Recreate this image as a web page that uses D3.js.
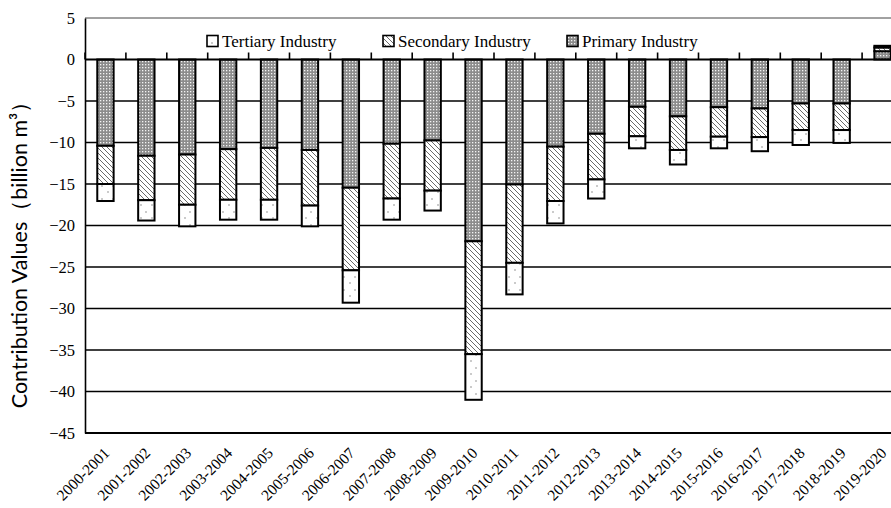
<!DOCTYPE html>
<html>
<head>
<meta charset="utf-8">
<script src="https://cdn.jsdelivr.net/npm/d3@7"></script>
<style>
html,body{margin:0;padding:0;background:#fff;}
svg{display:block;}
</style>
</head>
<body>
<svg id="chart" width="891" height="508"></svg>
<script>
const categories = ["2000-2001","2001-2002","2002-2003","2003-2004","2004-2005","2005-2006","2006-2007","2007-2008","2008-2009","2009-2010","2010-2011","2011-2012","2012-2013","2013-2014","2014-2015","2015-2016","2016-2017","2017-2018","2018-2019","2019-2020"];
const primary   = [-10.4,-11.6,-11.45,-10.8,-10.65,-10.9,-15.45,-10.15,-9.75,-21.9,-15.05,-10.5,-8.95,-5.7,-6.85,-5.75,-5.9,-5.3,-5.3,1.0];
const secondary = [-4.6,-5.35,-6.05,-6.1,-6.25,-6.7,-9.95,-6.6,-6.05,-13.6,-9.45,-6.55,-5.5,-3.55,-4.05,-3.55,-3.45,-3.2,-3.2,0.45];
const tertiary  = [-2.05,-2.45,-2.6,-2.4,-2.4,-2.5,-3.9,-2.55,-2.4,-5.5,-3.8,-2.7,-2.3,-1.45,-1.75,-1.4,-1.7,-1.8,-1.55,0.2];
const yTicks = [5,0,-5,-10,-15,-20,-25,-30,-35,-40,-45];
const seriesKeys = ["primary","secondary","tertiary"];
const legendLabels = {tertiary:"Tertiary Industry", secondary:"Secondary Industry", primary:"Primary Industry"};

const rows = categories.map((c,i)=>({cat:c, primary:primary[i], secondary:secondary[i], tertiary:tertiary[i]}));

const svg = d3.select("#chart");
const mLeft = 85, mRight = 903, mTop = 18, mBottom = 433;

const x = d3.scaleBand().domain(categories).range([mLeft,mRight]).paddingInner(0.6).paddingOuter(0.3);
const y = d3.scaleLinear().domain([-45,5]).range([mBottom,mTop]);

// patterns
const defs = svg.append("defs");
const pDot = defs.append("pattern").attr("id","pPrimary").attr("patternUnits","userSpaceOnUse").attr("width",3).attr("height",3);
pDot.append("rect").attr("width",3).attr("height",3).attr("fill","#8c8c8c");
pDot.append("rect").attr("x",1).attr("y",1).attr("width",1.3).attr("height",1.3).attr("fill","#f4f4f4");

const pHatch = defs.append("pattern").attr("id","pSecondary").attr("patternUnits","userSpaceOnUse").attr("width",5).attr("height",5);
pHatch.append("rect").attr("width",5).attr("height",5).attr("fill","#fff");
pHatch.append("path").attr("d","M0,0L5,5M-1,4L1,6M4,-1L6,1").attr("stroke","#6a6a6a").attr("stroke-width",1);

const pSparse = defs.append("pattern").attr("id","pTertiary").attr("patternUnits","userSpaceOnUse").attr("width",11).attr("height",13);
pSparse.append("rect").attr("width",11).attr("height",13).attr("fill","#fff");
pSparse.append("circle").attr("cx",3).attr("cy",4).attr("r",0.8).attr("fill","#8a8a8a");
pSparse.append("circle").attr("cx",9).attr("cy",10).attr("r",0.8).attr("fill","#8a8a8a");

const fills = {primary:"url(#pPrimary)", secondary:"url(#pSecondary)", tertiary:"url(#pTertiary)"};

// gridlines
const grid = svg.append("g");
yTicks.filter(v=>v<0 && v>-45).forEach(v=>{
  grid.append("line").attr("x1",mLeft).attr("x2",mRight).attr("y1",y(v)).attr("y2",y(v))
    .attr("stroke","#000").attr("stroke-width",1.6);
});
grid.append("line").attr("x1",mLeft).attr("x2",mRight).attr("y1",y(5)).attr("y2",y(5)).attr("stroke","#444").attr("stroke-width",1);
grid.append("line").attr("x1",mLeft).attr("x2",mRight).attr("y1",y(-45)).attr("y2",y(-45)).attr("stroke","#000").attr("stroke-width",2);

// y axis
const yAxis = svg.append("g").attr("transform",`translate(${mLeft},0)`)
  .call(d3.axisLeft(y).tickValues(yTicks).tickSize(0).tickPadding(10).tickFormat(d3.format("d")));
yAxis.select(".domain").attr("stroke","#000").attr("stroke-width",1.6);
yAxis.selectAll("text").attr("font-family","'Liberation Serif', 'Times New Roman', serif").attr("font-size",16.5).attr("fill","#000");

// bars
const stack = d3.stack().keys(seriesKeys).offset(d3.stackOffsetDiverging);
const stacked = stack(rows);
svg.append("g").selectAll("g").data(stacked).join("g")
  .attr("fill",d=>fills[d.key])
  .selectAll("rect").data(d=>d).join("rect")
  .attr("x",d=>x(d.data.cat))
  .attr("width",x.bandwidth())
  .attr("y",d=>y(Math.max(d[0],d[1])))
  .attr("height",d=>Math.abs(y(d[0])-y(d[1])))
  .attr("stroke","#000").attr("stroke-width",2);

// zero axis with upward ticks at category boundaries
const step = x.step();
const xZero = svg.append("g").attr("transform",`translate(0,${y(0)})`);
xZero.append("line").attr("x1",mLeft).attr("x2",mRight).attr("y1",0).attr("y2",0).attr("stroke","#000").attr("stroke-width",2);
d3.range(categories.length+1).forEach(i=>{
  const tx = mLeft + i*step;
  xZero.append("line").attr("x1",tx).attr("x2",tx).attr("y1",0).attr("y2",-7).attr("stroke","#000").attr("stroke-width",1.6);
});

// x labels
const xAxis = svg.append("g").attr("transform",`translate(0,${mBottom})`)
  .call(d3.axisBottom(x).tickSize(0).tickPadding(0));
xAxis.select(".domain").remove();
xAxis.selectAll("text")
  .attr("font-family","'Liberation Serif', 'Times New Roman', serif").attr("font-size",15.5).attr("fill","#000")
  .attr("text-anchor","end").attr("dy",0).attr("y",0)
  .attr("transform","translate(5,21) rotate(-45)");

// y title
svg.append("text")
  .attr("transform",`translate(27,${(mTop+mBottom)/2+24}) rotate(-90)`)
  .attr("text-anchor","middle")
  .attr("font-family","Lato, 'Open Sans', sans-serif").attr("font-size",21.5).attr("fill","#000")
  .text("Contribution Values（billion m³）");

// legend
const legendItems = [
  {key:"tertiary", x:207},
  {key:"secondary", x:383},
  {key:"primary", x:567}
];
const lg = svg.append("g");
legendItems.forEach(it=>{
  lg.append("rect").attr("x",it.x).attr("y",35.5).attr("width",11).attr("height",11)
    .attr("fill",fills[it.key]).attr("stroke","#000").attr("stroke-width",1.6);
  lg.append("text").attr("x",it.x+15).attr("y",47)
    .attr("font-family","'Liberation Serif', 'Times New Roman', serif").attr("font-size",17).attr("fill","#000")
    .text(legendLabels[it.key]);
});
</script>
</body>
</html>
